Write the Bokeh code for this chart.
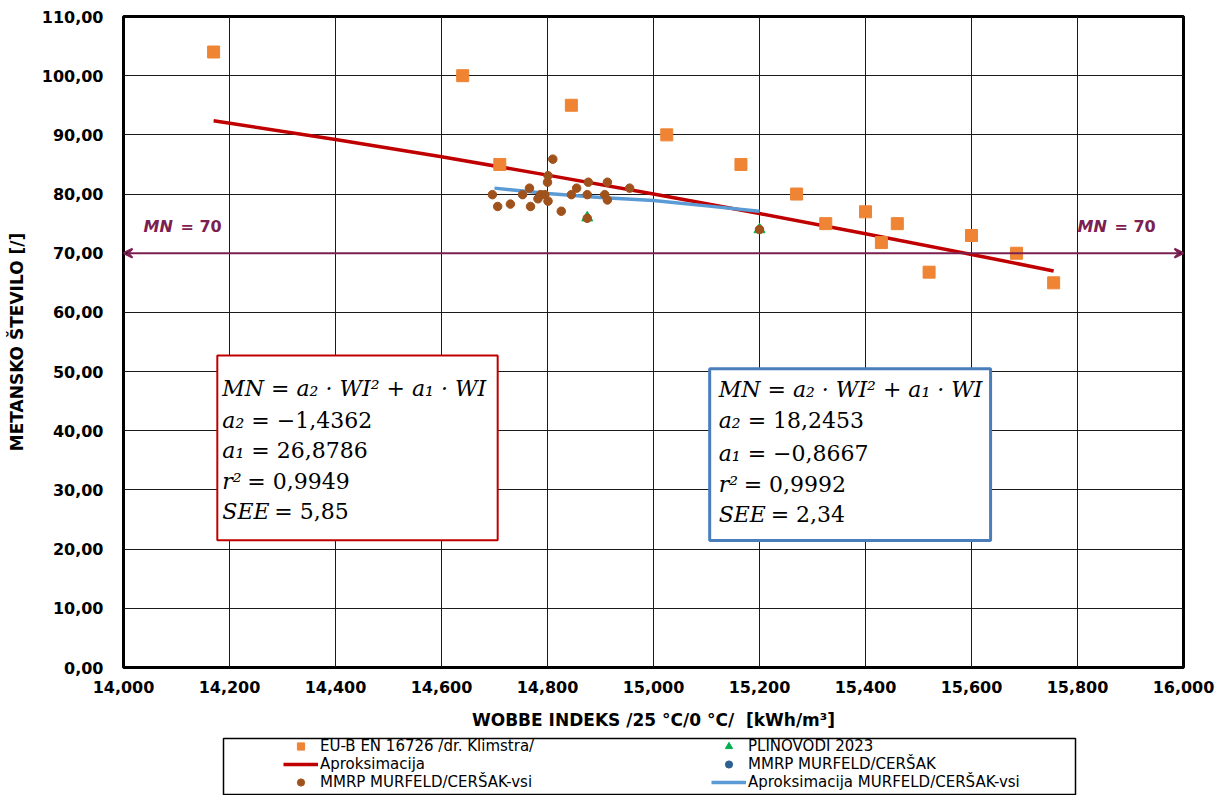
from bokeh.plotting import figure
from bokeh.layouts import column
from bokeh.models import (Range1d, FixedTicker, Label, BoxAnnotation, Arrow,
                          VeeHead, Legend, LegendItem)
from bokeh.embed import file_html
from bokeh.resources import INLINE

# ---------------- data ----------------
eu_wi = [14170, 14640, 14710, 14845, 15025, 15165, 15270, 15325, 15400,
         15430, 15460, 15520, 15600, 15685, 15755]
eu_mn = [104.0, 100.0, 85.0, 95.0, 90.0, 85.0, 80.0, 75.0, 77.0,
         71.8, 75.0, 66.8, 73.0, 70.0, 65.0]

approx_wi = [14170, 14400, 14600, 14800, 15000, 15200, 15400, 15600, 15755]
approx_mn = [92.4, 89.2, 86.3, 83.2, 80.0, 76.7, 73.3, 69.8, 67.0]

vsi_fit_wi = [14700, 14800, 14900, 15000, 15100, 15200]
vsi_fit_mn = [81.0, 80.1, 79.4, 78.9, 78.0, 77.1]

vsi_wi = [14696, 14706, 14730, 14753, 14766, 14768, 14782, 14787, 14795,
          14800, 14801, 14801, 14810, 14826, 14845, 14855, 14877, 14875,
          14875, 14913, 14908, 14913, 14955, 15200]
vsi_mn = [79.9, 77.9, 78.3, 79.9, 81.0, 77.9, 79.2, 79.9, 79.9,
          82.0, 83.1, 78.8, 85.9, 77.1, 79.9, 81.0, 82.0, 79.9,
          75.9, 82.0, 79.9, 79.0, 81.0, 74.0]

mmrp_wi = [14875, 15200]
mmrp_mn = [75.9, 74.0]

plin_wi = [14875, 15200]
plin_mn = [76.0, 74.0]

mn_limit = 70.0

x_ticks = [14000, 14200, 14400, 14600, 14800, 15000, 15200, 15400, 15600, 15800, 16000]
x_tick_labels = ["14,000", "14,200", "14,400", "14,600", "14,800", "15,000",
                 "15,200", "15,400", "15,600", "15,800", "16,000"]
y_ticks = [0, 10, 20, 30, 40, 50, 60, 70, 80, 90, 100, 110]
y_tick_labels = ["0,00", "10,00", "20,00", "30,00", "40,00", "50,00", "60,00",
                 "70,00", "80,00", "90,00", "100,00", "110,00"]

eq_title = "MN = a\u2082 \u00b7 WI\u00b2 + a\u2081 \u00b7 WI"
eq_vars = ["a\u2082", "a\u2081", "r\u00b2", "SEE"]
red_eq_vals = ["= \u22121,4362", "= 26,8786", "= 0,9949", "= 5,85"]
blue_eq_vals = ["= 18,2453", "= \u22120,8667", "= 0,9992", "= 2,34"]

legend_labels = ["EU-B EN 16726 /dr. Klimstra/", "Aproksimacija",
                 "MMRP MURFELD/CER\u0160AK-vsi", "PLINOVODI 2023",
                 "MMRP MURFELD/CER\u0160AK", "Aproksimacija MURFELD/CER\u0160AK-vsi"]

# ---------------- styles ----------------
STY_APPROX = dict(line_color="#C00000", line_width=3.5)
STY_VSIFIT = dict(line_color="#5B9BD5", line_width=3.5)
STY_EU = dict(marker="square", size=12, fill_color="#EE8434", line_color="#EE8434")
STY_PLIN = dict(marker="triangle", size=11, fill_color="#00B050", line_color="#00B050")
STY_MMRP = dict(marker="circle", size=7, fill_color="#2E5F91", line_color="#2E5F91")
STY_VSI = dict(marker="circle", size=8.5, fill_color="#A0521C", line_color="#A0521C")

# ---------------- main figure ----------------
p = figure(width=1229, height=734, output_backend="svg", toolbar_location=None,
           x_range=Range1d(14000, 16000), y_range=Range1d(0, 110),
           min_border_left=123, min_border_right=46, min_border_top=16,
           min_border_bottom=67)
p.outline_line_color = "black"
p.outline_line_width = 3
p.background_fill_color = "white"
p.border_fill_color = "white"

for ax in (p.xaxis, p.yaxis):
    ax.axis_line_color = None
    ax.major_tick_line_color = None
    ax.minor_tick_line_color = None
    ax.major_tick_out = 0
    ax.major_tick_in = 0
    ax.major_label_text_font = "DejaVu Sans"
    ax.major_label_text_font_style = "bold"
    ax.major_label_text_font_size = "16px"
    ax.major_label_text_color = "black"
    ax.axis_label_text_font = "DejaVu Sans"
    ax.axis_label_text_font_style = "bold"
    ax.axis_label_text_font_size = "17px"
    ax.axis_label_text_color = "black"

p.xaxis.ticker = FixedTicker(ticks=x_ticks)
p.xaxis.major_label_overrides = dict(zip(x_ticks, x_tick_labels))
p.yaxis.ticker = FixedTicker(ticks=y_ticks)
p.yaxis.major_label_overrides = dict(zip(y_ticks, y_tick_labels))
p.xaxis.axis_label = "WOBBE INDEKS /25 \u00b0C/0 \u00b0C/\u00a0 [kWh/m\u00b3]"
p.yaxis.axis_label = "METANSKO \u0160TEVILO [/]"
p.xaxis.major_label_standoff = 13
p.xaxis.axis_label_standoff = 14
p.yaxis.major_label_standoff = 20
p.yaxis.axis_label_standoff = 12

p.xgrid.ticker = FixedTicker(ticks=x_ticks)
p.ygrid.ticker = FixedTicker(ticks=y_ticks)
for g in (p.xgrid, p.ygrid):
    g.grid_line_color = "#1a1a1a"
    g.grid_line_width = 1

p.line(approx_wi, approx_mn, **STY_APPROX)
p.line(vsi_fit_wi, vsi_fit_mn, **STY_VSIFIT)
p.scatter(eu_wi, eu_mn, **STY_EU)
p.scatter(plin_wi, plin_mn, **STY_PLIN)
p.scatter(mmrp_wi, mmrp_mn, **STY_MMRP)
p.scatter(vsi_wi, vsi_mn, **STY_VSI)

# MN = 70 limit line
maroon = "#7B2050"
p.add_layout(Arrow(start=VeeHead(size=9, line_color=maroon, line_width=2),
                   end=VeeHead(size=9, line_color=maroon, line_width=2),
                   x_start=14000, y_start=mn_limit, x_end=16000, y_end=mn_limit,
                   line_color=maroon, line_width=2))
for xs, off_mn, off_val in ((14000, 20, 57), (15800, 0, 37)):
    p.add_layout(Label(x=xs, y=mn_limit, x_offset=off_mn, y_offset=27, text="MN",
                       text_font="DejaVu Sans", text_font_style="bold italic",
                       text_font_size="16px", text_color=maroon,
                       text_baseline="middle"))
    p.add_layout(Label(x=xs, y=mn_limit, x_offset=off_val, y_offset=27, text="= 70",
                       text_font="DejaVu Sans", text_font_style="bold",
                       text_font_size="16px", text_color=maroon,
                       text_baseline="middle"))

# ---------------- equation boxes ----------------
def eq_box(left, right, top, bottom, color, lw, vals_, tx, eq_dx, dys):
    p.add_layout(BoxAnnotation(left=left, right=right, top=top, bottom=bottom,
                               fill_color="white", fill_alpha=1.0,
                               line_color=color, line_width=lw, line_alpha=1.0))
    p.add_layout(Label(x=left, y=top, x_offset=tx, y_offset=-dys[0], text=eq_title,
                       text_font="DejaVu Serif", text_font_style="italic",
                       text_font_size="22px", text_color="black",
                       text_baseline="middle"))
    for v, n, ndx, dy in zip(eq_vars, vals_, eq_dx, dys[1:]):
        p.add_layout(Label(x=left, y=top, x_offset=tx, y_offset=-dy, text=v,
                           text_font="DejaVu Serif", text_font_style="italic",
                           text_font_size="22px", text_color="black",
                           text_baseline="middle"))
        p.add_layout(Label(x=left, y=top, x_offset=tx + ndx, y_offset=-dy, text=n,
                           text_font="DejaVu Serif", text_font_size="22px",
                           text_color="black", text_baseline="middle"))

eq_box(14177, 14706, 52.7, 21.5, "#C00000", 2, red_eq_vals, 5,
       [29, 29, 25, 52], [33, 65, 95, 126, 156])
eq_box(15106, 15636, 50.5, 21.45, "#4A7EBB", 3, blue_eq_vals, 9,
       [29, 29, 25, 52], [21, 52, 85, 116, 146])

# ---------------- legend strip (same series styles, nothing plotted) ----------------
LH = 61
q = figure(width=1229, height=LH, output_backend="svg", toolbar_location=None,
           x_range=Range1d(123, 1183), y_range=Range1d(0, LH),
           x_axis_type=None, y_axis_type=None,
           min_border_left=123, min_border_right=46, min_border_top=0,
           min_border_bottom=0)
q.outline_line_color = None
q.grid.visible = False
q.background_fill_color = "white"
q.border_fill_color = "white"
q.add_layout(BoxAnnotation(left=223, right=1075, bottom=1, top=57,
                           fill_color="white", fill_alpha=1.0,
                           line_color="black", line_width=1.5, line_alpha=1.0))
nan = [float("nan")]
l_eu = q.scatter(nan, nan, **dict(STY_EU, size=10))
l_approx = q.line(nan, nan, **STY_APPROX)
l_vsi = q.scatter(nan, nan, **STY_VSI)
l_plin = q.scatter(nan, nan, **dict(STY_PLIN, size=10))
l_mmrp = q.scatter(nan, nan, **STY_MMRP)
l_vsifit = q.line(nan, nan, **STY_VSIFIT)
legend = Legend(items=[LegendItem(label=lab, renderers=[r]) for lab, r in zip(
    legend_labels, [l_eu, l_approx, l_vsi, l_plin, l_mmrp, l_vsifit])],
    ncols=2, orientation="vertical", location=(160, 4))
legend.glyph_width = 35
legend.glyph_height = 18
legend.label_height = 18
legend.label_width = 391
legend.label_standoff = 2
legend.spacing = 0
legend.padding = 0
legend.margin = 0
legend.border_line_color = None
legend.background_fill_alpha = 0
legend.label_text_font = "DejaVu Sans"
legend.label_text_font_size = "15px"
legend.label_text_color = "black"
q.add_layout(legend, "center")

layout = column(p, q, spacing=0)
open("out.html", "w").write(file_html(layout, INLINE))
